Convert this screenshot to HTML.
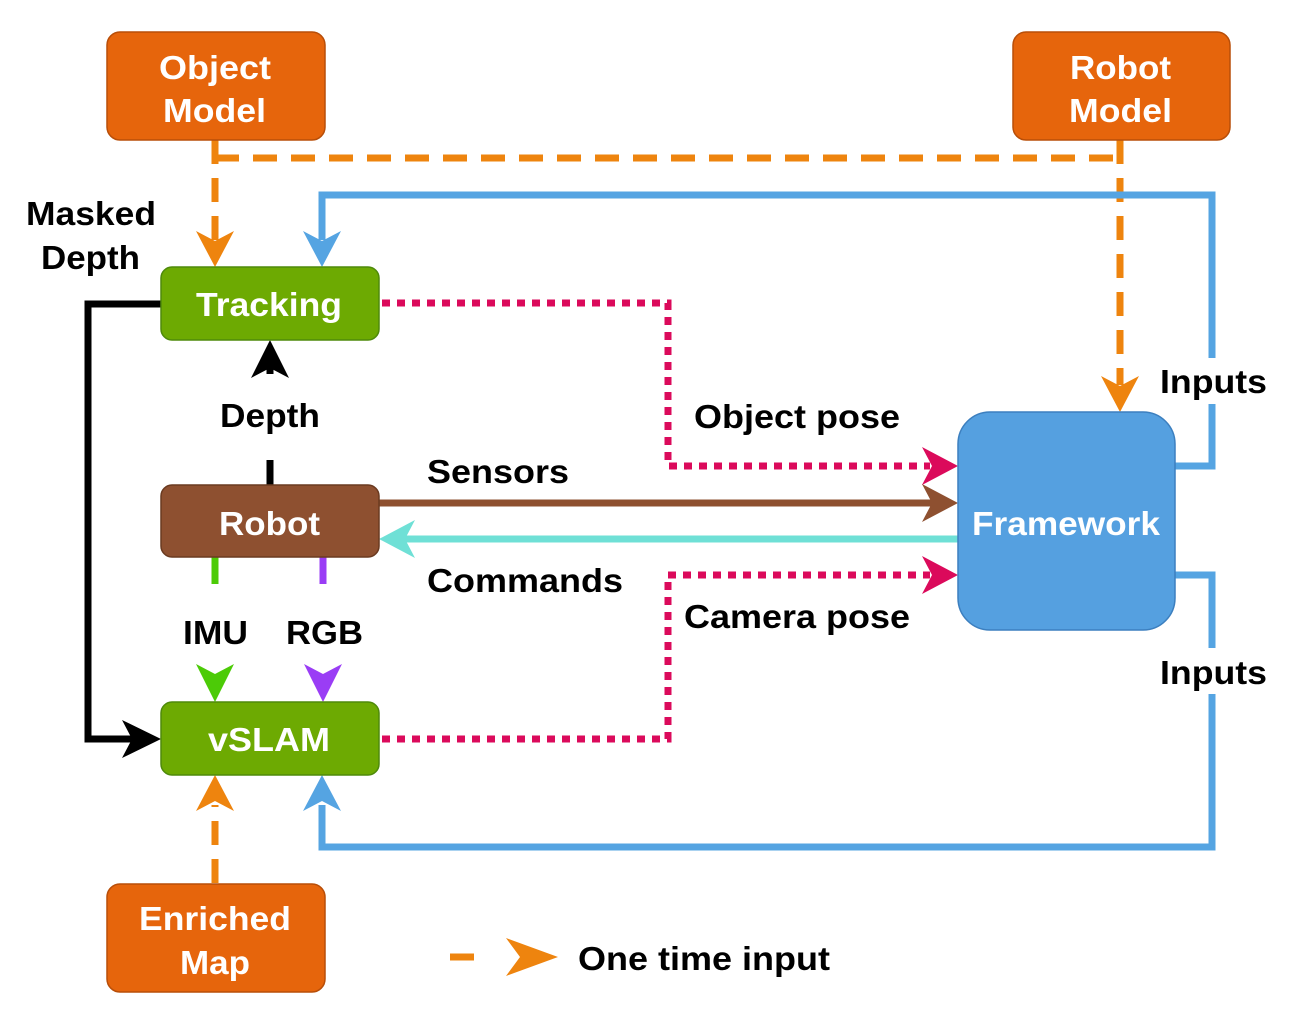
<!DOCTYPE html>
<html><head><meta charset="utf-8"><style>
html,body{margin:0;padding:0;background:#fff;}
svg{display:block;font-family:"Liberation Sans",sans-serif;font-weight:bold;}
</style></head><body>
<svg width="1289" height="1013" viewBox="0 0 1289 1013" xmlns="http://www.w3.org/2000/svg">
<rect width="1289" height="1013" fill="#fff"/>
<g stroke="#EE840E" stroke-width="7" fill="none" stroke-dasharray="24 14">
<path d="M215 140 V240"/>
<path d="M215 158 H1120"/>
<path d="M1120 140 V385"/>
<path d="M215 883 V805"/>
<path d="M450 957 H480"/>
</g>
<g fill="#EE840E">
<polygon points="215,267 196,231 215,241 234,231"/>
<polygon points="1120,412 1101,376 1120,386 1139,376"/>
<polygon points="215,775 196,811 215,801 234,811"/>
<polygon points="558,957 506,938 520,957 506,976"/>
</g>
<g stroke="#55A4E2" stroke-width="7" fill="none">
<path d="M1175 466 H1212 V195 H322 V240"/>
<path d="M1175 575 H1212 V847 H322 V805"/>
</g>
<g fill="#55A4E2">
<polygon points="322,267 303,231 322,241 341,231"/>
<polygon points="322,775 303,811 322,801 341,811"/>
</g>
<rect x="1155" y="358" width="115" height="46" fill="#fff"/>
<rect x="1155" y="648" width="115" height="46" fill="#fff"/>
<g stroke="#DB0A5B" stroke-width="7" fill="none" stroke-dasharray="8 7">
<path d="M382 303 H668 V466 H930"/>
<path d="M382 739 H668 V575 H930"/>
</g>
<g fill="#DB0A5B">
<polygon points="958,466 922,447 932,466 922,485"/>
<polygon points="958,575 922,556 932,575 922,594"/>
</g>
<path d="M379 503 H935" stroke="#8E5030" stroke-width="7"/>
<polygon points="958,503 922,484 932,503 922,522" fill="#8E5030"/>
<path d="M958 539 H405" stroke="#6FE0D6" stroke-width="7"/>
<polygon points="379,539 415,520 405,539 415,558" fill="#6FE0D6"/>
<g stroke="#000" stroke-width="7" fill="none">
<path d="M270 485 V460"/>
<path d="M161 304 H88 V739 H135"/>
<path d="M270 360 V374"/>
</g>
<polygon points="270,340 251,378 270,368 289,378" fill="#000"/>
<polygon points="161,739 122,720 132,739 122,758" fill="#000"/>
<path d="M215 557 V584" stroke="#4CCB07" stroke-width="7"/>
<path d="M323 557 V584" stroke="#9A3DF5" stroke-width="7"/>
<polygon points="215,702 196,664 215,674 234,664" fill="#4CCB07"/>
<polygon points="323,702 304,664 323,674 342,664" fill="#9A3DF5"/>
<g stroke="#B84E08" stroke-width="1.5">
<rect x="107" y="32" width="218" height="108" rx="13" fill="#E6650C"/>
<rect x="1013" y="32" width="217" height="108" rx="13" fill="#E6650C"/>
<rect x="107" y="884" width="218" height="108" rx="13" fill="#E6650C"/>
</g>
<g stroke="#4E8A0A" stroke-width="1.5" fill="#6DAA02">
<rect x="161" y="267" width="218" height="73" rx="11"/>
<rect x="161" y="702" width="218" height="73" rx="11"/>
</g>
<rect x="161" y="485" width="218" height="72" rx="11" fill="#8E5030" stroke="#6A3A20" stroke-width="1.5"/>
<rect x="958" y="412" width="217" height="218" rx="32" fill="#55A0E0" stroke="#3C7FBF" stroke-width="1.5"/>
<g fill="#fff" font-size="33" lengthAdjust="spacingAndGlyphs">
<text x="159" y="79" textLength="112" lengthAdjust="spacingAndGlyphs">Object</text>
<text x="163" y="122" textLength="103" lengthAdjust="spacingAndGlyphs">Model</text>
<text x="1070" y="79" textLength="101" lengthAdjust="spacingAndGlyphs">Robot</text>
<text x="1069" y="122" textLength="103" lengthAdjust="spacingAndGlyphs">Model</text>
<text x="139" y="930" textLength="152" lengthAdjust="spacingAndGlyphs">Enriched</text>
<text x="180" y="974" textLength="70" lengthAdjust="spacingAndGlyphs">Map</text>
<text x="196" y="316" textLength="146" lengthAdjust="spacingAndGlyphs">Tracking</text>
<text x="208" y="751" textLength="122" lengthAdjust="spacingAndGlyphs">vSLAM</text>
<text x="219" y="535" textLength="101" lengthAdjust="spacingAndGlyphs">Robot</text>
<text x="972" y="535" textLength="188" lengthAdjust="spacingAndGlyphs">Framework</text>
</g>
<g fill="#000" font-size="33">
<text x="26" y="225" textLength="130" lengthAdjust="spacingAndGlyphs">Masked</text>
<text x="41" y="269" textLength="99" lengthAdjust="spacingAndGlyphs">Depth</text>
<text x="220" y="427" textLength="100" lengthAdjust="spacingAndGlyphs">Depth</text>
<text x="694" y="428" textLength="206" lengthAdjust="spacingAndGlyphs">Object pose</text>
<text x="427" y="483" textLength="142" lengthAdjust="spacingAndGlyphs">Sensors</text>
<text x="427" y="592" textLength="196" lengthAdjust="spacingAndGlyphs">Commands</text>
<text x="684" y="628" textLength="226" lengthAdjust="spacingAndGlyphs">Camera pose</text>
<text x="183" y="644" textLength="65" lengthAdjust="spacingAndGlyphs">IMU</text>
<text x="286" y="644" textLength="77" lengthAdjust="spacingAndGlyphs">RGB</text>
<text x="1160" y="393" textLength="107" lengthAdjust="spacingAndGlyphs">Inputs</text>
<text x="1160" y="684" textLength="107" lengthAdjust="spacingAndGlyphs">Inputs</text>
<text x="578" y="970" textLength="252" lengthAdjust="spacingAndGlyphs">One time input</text>
</g>
</svg>
</body></html>
